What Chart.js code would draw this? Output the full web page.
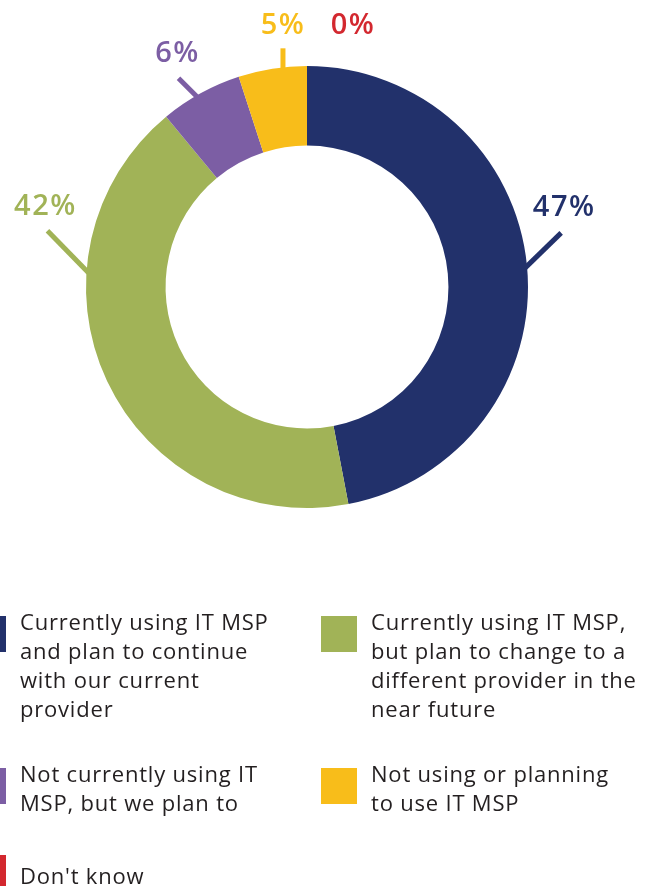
<!DOCTYPE html>
<html>
<head>
<meta charset="utf-8">
<script src="https://cdn.jsdelivr.net/npm/chart.js@4.4.0/dist/chart.umd.min.js"></script>
<style>
  body { margin: 0; background: #fff; width: 652px; height: 886px; overflow: hidden; position: relative; font-family: "Open Sans", Lato, sans-serif; }
  #wrap { position: absolute; left: 0; top: 0; width: 652px; height: 560px; }
  #legenda { position: absolute; left: 0; top: 0; width: 652px; height: 886px; }
  .item { position: absolute; color: #231f20; font-size: 22px; letter-spacing: 0.8px; line-height: 29px; white-space: nowrap; }
  .item .sw { position: absolute; width: 36px; height: 36px; left: -50px; }
</style>
</head>
<body>
<div id="wrap"><canvas id="rosca"></canvas></div>
<div id="legenda"></div>
<script>
// dados do gráfico
const categorias = [
    'Currently using IT MSP and plan to continue with our current provider',
    'Currently using IT MSP, but plan to change to a different provider in the near future',
    'Not currently using IT MSP, but we plan to',
    'Not using or planning to use IT MSP',
    "Don't know"
];
const valores = [47, 42, 6, 5, 0];
const rotulos = ['47%', '42%', '6%', '5%', '0%'];
const cores = ['#22316b', '#a1b357', '#7c5ea4', '#f8bd1a', '#d3282f'];

// linhas do legenda (quebras iguais à imagem)
const linhasLegenda = [
    ['Currently using IT MSP', 'and plan to continue', 'with our current', 'provider'],
    ['Currently using IT MSP,', 'but plan to change to a', 'different provider in the', 'near future'],
    ['Not currently using IT', 'MSP, but we plan to'],
    ['Not using or planning', 'to use IT MSP'],
    ["Don't know"]
];

// posição das linhas de chamada: ângulo no anel, deslocamento da linha e do texto
const chamadas = [
    { ang: 85, dx: 36, dy: -35, tx: 3, ty: -25 },
    { ang: 273.7, dx: -41, dy: -42, tx: -2, ty: -24 },
    { ang: 330, dx: -19, dy: -19, tx: -1, ty: -25 },
    { ang: 353.7, dx: 0, dy: -21, tx: 0, ty: -23 },
    { ang: 0, dx: 0, dy: 0, tx: 46, ty: -42, semLinha: true }
];

const pluginRotulos = {
    id: 'rotulos',
    afterDatasetsDraw(chart) {
        const ctx = chart.ctx;
        const arco = chart.getDatasetMeta(0).data[0];
        const { x, y, outerRadius } = arco.getProps(['x', 'y', 'outerRadius'], true);
        ctx.save();
        chamadas.forEach((c, i) => {
            const a = c.ang * Math.PI / 180;
            const px = x + (outerRadius - 2) * Math.sin(a);
            const py = y - (outerRadius - 2) * Math.cos(a);
            const ex = px + c.dx;
            const ey = py + c.dy;
            if (!c.semLinha) {
                ctx.strokeStyle = cores[i];
                ctx.lineWidth = 5;
                ctx.beginPath();
                ctx.moveTo(px, py);
                ctx.lineTo(ex, ey);
                ctx.stroke();
            }
            ctx.fillStyle = cores[i];
            ctx.font = '600 29px "Open Sans", Lato, sans-serif';
            ctx.letterSpacing = '1.5px';
            ctx.textAlign = 'center';
            ctx.textBaseline = 'middle';
            ctx.fillText(rotulos[i], ex + c.tx, ey + c.ty);
        });
        ctx.restore();
    }
};

const ctxRosca = document.getElementById('rosca').getContext('2d');
const grafico = new Chart(ctxRosca, {
    type: 'doughnut',
    data: {
        labels: categorias,
        datasets: [{
            data: valores,
            backgroundColor: cores,
            borderWidth: 0
        }]
    },
    options: {
        responsive: true,
        maintainAspectRatio: false,
        animation: false,
        cutout: '64%',
        layout: { padding: { left: 86, right: 124, top: 66, bottom: 52 } },
        plugins: {
            legend: { display: false },
            tooltip: { enabled: false }
        }
    },
    plugins: [pluginRotulos]
});

// legenda em html (sy = topo do quadrado em relação ao texto)
const posLegenda = [
    { x: 20, y: 607, sy: 9 }, { x: 371, y: 607, sy: 9 },
    { x: 20, y: 759, sy: 9 }, { x: 371, y: 759, sy: 9 },
    { x: 20, y: 861, sy: -6 }
];
const legenda = document.getElementById('legenda');
linhasLegenda.forEach((linhas, i) => {
    const div = document.createElement('div');
    div.className = 'item';
    div.style.left = posLegenda[i].x + 'px';
    div.style.top = posLegenda[i].y + 'px';
    div.innerHTML = '<span class="sw" style="top:' + posLegenda[i].sy + 'px;background:' + cores[i] + '"></span>' + linhas.join('<br>');
    legenda.appendChild(div);
});
</script>
</body>
</html>
